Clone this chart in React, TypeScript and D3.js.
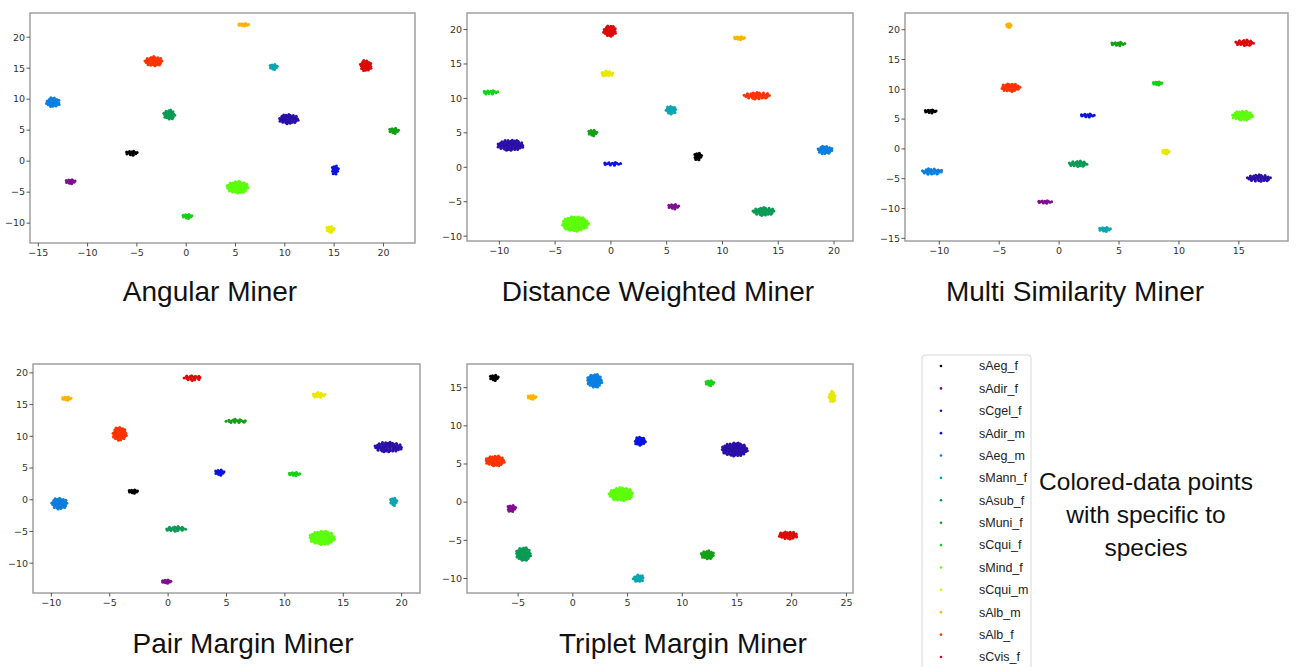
import React from "react";
import * as d3 from "d3";

// species order as in the legend
const SPECIES = [
  "sAeg_f", "sAdir_f", "sCgel_f", "sAdir_m", "sAeg_m", "sMann_f", "sAsub_f",
  "sMuni_f", "sCqui_f", "sMind_f", "sCqui_m", "sAlb_m", "sAlb_f", "sCvis_f",
];

// spectral-like palette, one per species
const PALETTE = [
  "#000000", "#7f0f8f", "#2a0fa8", "#0a14e0", "#0a7fe0", "#0aa6b0", "#0a9a55",
  "#14a014", "#18d018", "#5cff0a", "#e8e800", "#ffb300", "#ff3300", "#dd0a0a",
];

// cluster [x, y, halfWidth, halfHeight] per species (same order as SPECIES)
const angularClusters = [
  [-5.55, 1.3, 0.6, 0.4], [-11.75, -3.3, 0.5, 0.4], [10.4, 6.8, 1.0, 0.8],
  [15.1, -1.4, 0.35, 0.8], [-13.5, 9.5, 0.7, 0.8], [8.85, 15.2, 0.4, 0.5],
  [-1.7, 7.5, 0.6, 0.8], [21.05, 4.9, 0.5, 0.5], [0.1, -8.9, 0.5, 0.4],
  [5.2, -4.2, 1.1, 1.0], [14.6, -11.0, 0.4, 0.6], [5.8, 22.0, 0.55, 0.25],
  [-3.3, 16.1, 0.9, 0.8], [18.2, 15.4, 0.6, 0.9],
];
const distanceClusters = [
  [7.8, 1.6, 0.35, 0.6], [5.6, -5.7, 0.5, 0.4], [-9.0, 3.2, 1.2, 0.8],
  [0.1, 0.5, 0.8, 0.25], [19.2, 2.5, 0.7, 0.6], [5.4, 8.3, 0.5, 0.6],
  [13.7, -6.4, 1.0, 0.6], [-1.65, 5.0, 0.4, 0.5], [-10.8, 10.9, 0.7, 0.3],
  [-3.2, -8.2, 1.2, 1.1], [-0.35, 13.6, 0.6, 0.4], [11.5, 18.75, 0.5, 0.25],
  [13.1, 10.4, 1.2, 0.5], [-0.1, 19.8, 0.6, 0.8],
];
const multiClusters = [
  [-10.75, 6.3, 0.5, 0.3], [-1.2, -8.9, 0.6, 0.25], [16.7, -4.9, 1.0, 0.6],
  [2.35, 5.6, 0.6, 0.3], [-10.6, -3.8, 0.9, 0.5], [3.8, -13.5, 0.5, 0.4],
  [1.6, -2.5, 0.8, 0.5], [4.9, 17.6, 0.6, 0.35], [8.2, 11.0, 0.4, 0.3],
  [15.3, 5.6, 0.9, 0.8], [8.9, -0.5, 0.3, 0.4], [-4.2, 20.7, 0.2, 0.4],
  [-4.05, 10.3, 0.8, 0.7], [15.5, 17.8, 0.8, 0.5],
];
const pairClusters = [
  [-3.0, 1.3, 0.4, 0.3], [-0.15, -12.9, 0.4, 0.3], [18.85, 8.3, 1.2, 0.8],
  [4.4, 4.3, 0.4, 0.5], [-9.3, -0.6, 0.7, 0.9], [19.3, -0.3, 0.3, 0.7],
  [0.65, -4.6, 0.9, 0.4], [5.85, 12.4, 0.9, 0.3], [10.8, 4.05, 0.5, 0.3],
  [13.2, -6.0, 1.1, 1.1], [12.9, 16.5, 0.6, 0.4], [-8.7, 15.95, 0.4, 0.3],
  [-4.15, 10.4, 0.6, 1.1], [2.1, 19.2, 0.8, 0.4],
];
const tripletClusters = [
  [-7.2, 16.3, 0.4, 0.4], [-5.6, -0.8, 0.4, 0.5], [14.8, 6.9, 1.2, 0.9],
  [6.15, 8.0, 0.5, 0.6], [2.0, 15.9, 0.7, 0.9], [6.0, -10.0, 0.5, 0.5],
  [-4.5, -6.8, 0.7, 0.9], [12.3, -6.9, 0.6, 0.6], [12.5, 15.6, 0.4, 0.4],
  [4.4, 1.05, 1.1, 0.9], [23.7, 13.8, 0.3, 0.8], [-3.75, 13.75, 0.4, 0.3],
  [-7.1, 5.4, 0.9, 0.7], [19.7, -4.35, 0.9, 0.5],
];

// axis limits and ticks
const angularXDomain = [-15.84, 23.2], angularYDomain = [-13.2, 23.9];
const distanceXDomain = [-12.9, 21.7], distanceYDomain = [-10.7, 22.4];
const multiXDomain = [-12.86, 19.1], multiYDomain = [-15.45, 22.8];
const pairXDomain = [-11.57, 21.57], pairYDomain = [-14.7, 21.4];
const tripletXDomain = [-9.67, 25.6], tripletYDomain = [-11.9, 18.1];

const angularXTicks = [-15, -10, -5, 0, 5, 10, 15, 20];
const angularYTicks = [-10, -5, 0, 5, 10, 15, 20];
const distanceXTicks = [-10, -5, 0, 5, 10, 15, 20];
const distanceYTicks = [-10, -5, 0, 5, 10, 15, 20];
const multiXTicks = [-10, -5, 0, 5, 10, 15];
const multiYTicks = [-15, -10, -5, 0, 5, 10, 15, 20];
const pairXTicks = [-10, -5, 0, 5, 10, 15, 20];
const pairYTicks = [-10, -5, 0, 5, 10, 15, 20];
const tripletXTicks = [-5, 0, 5, 10, 15, 20, 25];
const tripletYTicks = [-10, -5, 0, 5, 10, 15];

const NOTE_LINES = ["Colored-data points", "with specific to", "species"];

const panels = [
  { title: "Angular Miner", clusters: angularClusters, xd: angularXDomain, yd: angularYDomain,
    xt: angularXTicks, yt: angularYTicks, box: [30, 13, 415, 243], titleX: 210, titleY: 300 },
  { title: "Distance Weighted Miner", clusters: distanceClusters, xd: distanceXDomain, yd: distanceYDomain,
    xt: distanceXTicks, yt: distanceYTicks, box: [467, 13, 853, 241], titleX: 658, titleY: 300 },
  { title: "Multi Similarity Miner", clusters: multiClusters, xd: multiXDomain, yd: multiYDomain,
    xt: multiXTicks, yt: multiYTicks, box: [905, 13, 1288, 241], titleX: 1075, titleY: 300 },
  { title: "Pair Margin Miner", clusters: pairClusters, xd: pairXDomain, yd: pairYDomain,
    xt: pairXTicks, yt: pairYTicks, box: [33, 364, 420, 593], titleX: 243, titleY: 652 },
  { title: "Triplet Margin Miner", clusters: tripletClusters, xd: tripletXDomain, yd: tripletYDomain,
    xt: tripletXTicks, yt: tripletYTicks, box: [467, 364, 853, 593], titleX: 683, titleY: 652 },
];

// sunflower layout used to fill a blob with dots
function blobDots(n) {
  const out = [];
  for (let k = 0; k < n; k++) {
    const r = Math.sqrt((k + 0.5) / n);
    const t = k * 2.39996;
    out.push([r * Math.cos(t), r * Math.sin(t)]);
  }
  return out;
}

function Panel({ p }) {
  const [x0, y0, x1, y1] = p.box;
  const x = d3.scaleLinear().domain(p.xd).range([x0, x1]);
  const y = d3.scaleLinear().domain(p.yd).range([y1, y0]);
  const font = "DejaVu Sans, sans-serif";
  return (
    <g>
      {p.clusters.map((c, i) => {
        const cx = x(c[0]), cy = y(c[1]);
        const rx = Math.abs(x(c[0] + c[2]) - cx);
        const ry = Math.abs(y(c[1] + c[3]) - cy);
        const n = Math.max(14, Math.round(rx * ry * 0.9));
        return (
          <g key={i} fill={PALETTE[i]}>
            {blobDots(n).map((d, j) => (
              <circle key={j} cx={cx + d[0] * rx} cy={cy + d[1] * ry} r={1.5} />
            ))}
          </g>
        );
      })}
      <rect x={x0} y={y0} width={x1 - x0} height={y1 - y0} fill="none" stroke="#a0a0a0" strokeWidth={1.5} />
      {p.xt.map((t) => (
        <g key={"x" + t}>
          <line x1={x(t)} x2={x(t)} y1={y1} y2={y1 + 3.5} stroke="#555" />
          <text x={x(t)} y={y1 + 13} textAnchor="middle" fontSize={9.5} fill="#333" fontFamily={font}>
            {t < 0 ? "\u2212" + Math.abs(t) : t}
          </text>
        </g>
      ))}
      {p.yt.map((t) => (
        <g key={"y" + t}>
          <line x1={x0 - 3.5} x2={x0} y1={y(t)} y2={y(t)} stroke="#555" />
          <text x={x0 - 5} y={y(t)} dy="0.35em" textAnchor="end" fontSize={9.5} fill="#333" fontFamily={font}>
            {t < 0 ? "\u2212" + Math.abs(t) : t}
          </text>
        </g>
      ))}
      <text x={p.titleX} y={p.titleY + 1} textAnchor="middle" fontSize={28} fill="#111"
        fontFamily="Liberation Sans, Arial, sans-serif">
        {p.title}
      </text>
    </g>
  );
}

export default function App() {
  const legendY = d3.scaleLinear().domain([0, SPECIES.length - 1]).range([366, 657]);
  return (
    <svg width={1296} height={667} style={{ position: "absolute", left: 0, top: 0, background: "#fff" }}>
      <rect width={1296} height={667} fill="#fff" />
      {panels.map((p) => <Panel key={p.title} p={p} />)}
      <rect x={922} y={355} width={109} height={320} rx={3} fill="#fff" stroke="#d8d8d8" />
      {SPECIES.map((s, i) => (
        <g key={s}>
          <circle cx={941} cy={legendY(i)} r={1.3} fill={PALETTE[i]} />
          <text x={979} y={legendY(i)} dy="0.35em" fontSize={12.5} fill="#222"
            fontFamily="Liberation Sans, Arial, sans-serif">{s}</text>
        </g>
      ))}
      {NOTE_LINES.map((l, i) => (
        <text key={l} x={1146} y={490 + i * 33} textAnchor="middle" fontSize={24.5} fill="#111"
          fontFamily="Liberation Sans, Arial, sans-serif">{l}</text>
      ))}
    </svg>
  );
}
